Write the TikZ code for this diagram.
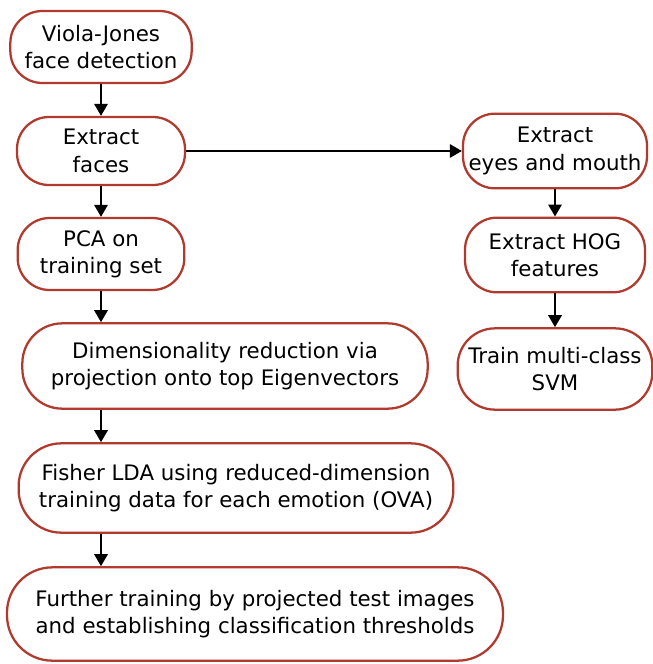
\documentclass[tikz,border=0pt]{standalone}
\usepackage{fontspec}
\setmainfont{DejaVu Sans}
\usetikzlibrary{arrows.meta}
\definecolor{boxred}{HTML}{B03A2E}

\begin{document}
\begin{tikzpicture}[x=0.75pt, y=-0.75pt,
  procbox/.style={draw=boxred, line width=1.7pt, rounded corners=24pt, align=center, fill=white, font=\fontsize{16}{20.5}\selectfont, inner sep=2pt},
  flow/.style={line width=1.6pt, -{Triangle[length=9pt, width=10pt]}}]
\useasboundingbox (0,0) rectangle (653,664);

% Left column
\node[procbox, minimum width=136pt, minimum height=54pt] (vj) at (101,47) {Viola-Jones\\face detection};
\node[procbox, minimum width=126pt, minimum height=51pt] (faces) at (101,151) {Extract\\faces};
\node[procbox, minimum width=125pt, minimum height=54pt] (pca) at (101,254) {PCA on\\training set};
\node[procbox, minimum width=304pt, minimum height=64pt, rounded corners=30pt] (dim) at (225,366) {Dimensionality reduction via\\projection onto top Eigenvectors};
\node[procbox, minimum width=326pt, minimum height=67pt, rounded corners=32pt] (lda) at (236,488) {Fisher LDA using reduced-dimension\\training data for each emotion (OVA)};
\node[procbox, minimum width=372pt, minimum height=70pt, rounded corners=34pt] (further) at (255,614) {Further training by projected test images\\and establishing classification thresholds};

% Right column
\node[procbox, minimum width=138pt, minimum height=56pt] (eyes) at (555,151) {Extract\\eyes and mouth};
\node[procbox, minimum width=135pt, minimum height=56pt] (hog) at (555,255) {Extract HOG\\features};
\node[procbox, minimum width=146pt, minimum height=61pt, rounded corners=28pt] (svm) at (555,369) {Train multi-class\\SVM};

% Arrows
\draw[flow] (vj.south) -- (faces.north);
\draw[flow] (faces.south) -- (pca.north);
\draw[flow] (pca.south) -- (pca.south |- dim.north);
\draw[flow] (pca.south |- dim.south) -- (pca.south |- lda.north);
\draw[flow] (pca.south |- lda.south) -- (pca.south |- further.north);
\draw[flow] (faces.east) -- (eyes.west);
\draw[flow] (eyes.south) -- (hog.north);
\draw[flow] (hog.south) -- (svm.north);

\end{tikzpicture}
\end{document}
